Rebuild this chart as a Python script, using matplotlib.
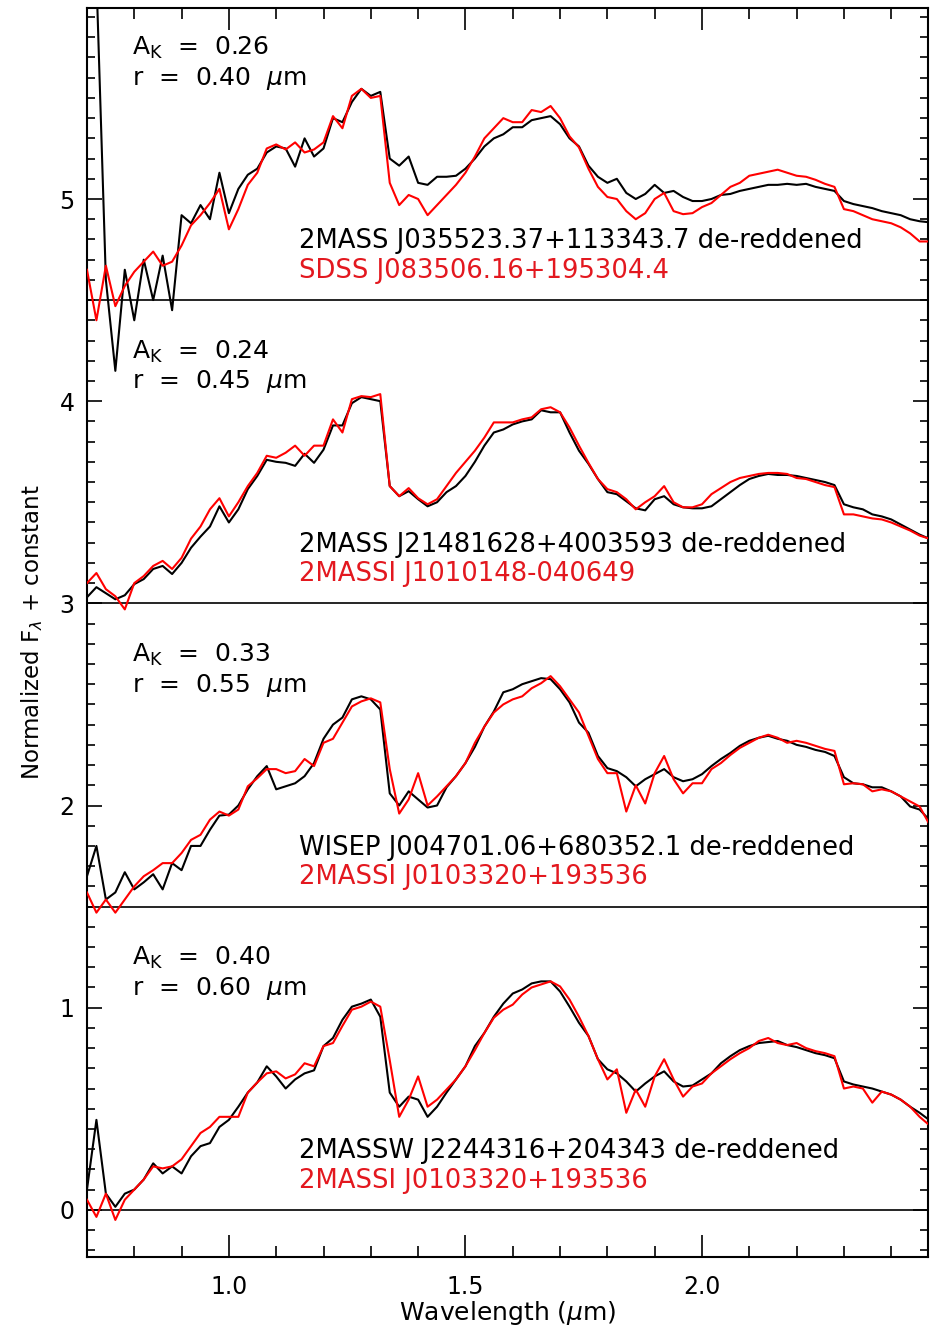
import numpy as np
import matplotlib.pyplot as plt
from matplotlib.ticker import MultipleLocator

# wavelength grid (micron)
wave = [0.70, 0.72, 0.74, 0.76, 0.78, 0.80, 0.82, 0.84, 0.86, 0.88,
        0.90, 0.92, 0.94, 0.96, 0.98, 1.00, 1.02, 1.04, 1.06, 1.08,
        1.10, 1.12, 1.14, 1.16, 1.18, 1.20, 1.22, 1.24, 1.26, 1.28,
        1.30, 1.32, 1.34, 1.36, 1.38, 1.40, 1.42, 1.44, 1.46, 1.48,
        1.50, 1.52, 1.54, 1.56, 1.58, 1.60, 1.62, 1.64, 1.66, 1.68,
        1.70, 1.72, 1.74, 1.76, 1.78, 1.80, 1.82, 1.84, 1.86, 1.88,
        1.90, 1.92, 1.94, 1.96, 1.98, 2.00, 2.02, 2.04, 2.06, 2.08,
        2.10, 2.12, 2.14, 2.16, 2.18, 2.20, 2.22, 2.24, 2.26, 2.28,
        2.30, 2.32, 2.34, 2.36, 2.38, 2.40, 2.42, 2.44, 2.46, 2.48]

offsets = [4.5, 3.0, 1.5, 0.0]
ak_vals = ['0.26', '0.24', '0.33', '0.40']
r_vals = ['0.40', '0.45', '0.55', '0.60']
obj_names = ['2MASS J035523.37+113343.7 de-reddened',
             '2MASS J21481628+4003593 de-reddened',
             'WISEP J004701.06+680352.1 de-reddened',
             '2MASSW J2244316+204343 de-reddened']
std_names = ['SDSS J083506.16+195304.4',
             '2MASSI J1010148-040649',
             '2MASSI J0103320+193536',
             '2MASSI J0103320+193536']

# de-reddened targets (black)
obj1 = [5.0, 1.6, 0.10, -0.35, 0.15, -0.10, 0.20, 0.00, 0.22, -0.05,
        0.42, 0.38, 0.47, 0.40, 0.63, 0.43, 0.55, 0.62, 0.65, 0.73,
        0.76, 0.75, 0.66, 0.80, 0.71, 0.75, 0.90, 0.88, 0.98, 1.045,
        1.01, 1.03, 0.70, 0.665, 0.71, 0.58, 0.57, 0.61, 0.61, 0.615,
        0.65, 0.70, 0.76, 0.80, 0.82, 0.855, 0.855, 0.89, 0.90, 0.91,
        0.87, 0.80, 0.76, 0.665, 0.61, 0.58, 0.60, 0.53, 0.50, 0.525,
        0.57, 0.53, 0.54, 0.51, 0.49, 0.49, 0.50, 0.52, 0.525, 0.54,
        0.55, 0.56, 0.57, 0.57, 0.575, 0.57, 0.575, 0.56, 0.55, 0.54,
        0.49, 0.475, 0.465, 0.455, 0.44, 0.43, 0.42, 0.40, 0.39, 0.385]
obj2 = [0.03, 0.08, 0.05, 0.02, 0.04, 0.095, 0.12, 0.17, 0.185, 0.145,
        0.20, 0.275, 0.33, 0.38, 0.48, 0.40, 0.465, 0.565, 0.63, 0.71,
        0.70, 0.695, 0.68, 0.74, 0.695, 0.76, 0.88, 0.88, 0.99, 1.02,
        1.01, 1.00, 0.58, 0.53, 0.555, 0.515, 0.48, 0.50, 0.55, 0.58,
        0.63, 0.70, 0.78, 0.845, 0.86, 0.885, 0.90, 0.91, 0.955, 0.945,
        0.945, 0.845, 0.755, 0.69, 0.615, 0.55, 0.54, 0.505, 0.47, 0.46,
        0.515, 0.53, 0.49, 0.475, 0.47, 0.47, 0.48, 0.515, 0.55, 0.585,
        0.615, 0.63, 0.64, 0.635, 0.635, 0.63, 0.62, 0.61, 0.60, 0.585,
        0.49, 0.475, 0.465, 0.44, 0.43, 0.415, 0.39, 0.365, 0.34, 0.32]
obj3 = [0.15, 0.30, 0.035, 0.07, 0.17, 0.085, 0.12, 0.16, 0.085, 0.215,
        0.18, 0.30, 0.30, 0.38, 0.45, 0.455, 0.50, 0.58, 0.645, 0.695,
        0.58, 0.595, 0.61, 0.645, 0.71, 0.83, 0.90, 0.935, 1.025, 1.04,
        1.025, 0.975, 0.56, 0.50, 0.57, 0.53, 0.49, 0.50, 0.59, 0.645,
        0.71, 0.79, 0.89, 0.965, 1.06, 1.075, 1.10, 1.115, 1.13, 1.125,
        1.075, 1.01, 0.91, 0.86, 0.745, 0.685, 0.67, 0.64, 0.595, 0.63,
        0.655, 0.68, 0.64, 0.62, 0.63, 0.655, 0.695, 0.73, 0.76, 0.795,
        0.82, 0.835, 0.845, 0.83, 0.82, 0.80, 0.79, 0.775, 0.765, 0.745,
        0.64, 0.61, 0.605, 0.59, 0.59, 0.57, 0.545, 0.495, 0.48, 0.43]
obj4 = [0.10, 0.445, 0.08, 0.015, 0.08, 0.10, 0.15, 0.23, 0.18, 0.215,
        0.18, 0.265, 0.315, 0.33, 0.41, 0.445, 0.51, 0.58, 0.63, 0.71,
        0.66, 0.60, 0.645, 0.675, 0.69, 0.81, 0.85, 0.94, 1.005, 1.02,
        1.04, 0.955, 0.58, 0.51, 0.56, 0.545, 0.46, 0.51, 0.58, 0.645,
        0.71, 0.81, 0.875, 0.955, 1.02, 1.07, 1.09, 1.12, 1.13, 1.13,
        1.08, 1.005, 0.925, 0.86, 0.745, 0.695, 0.675, 0.635, 0.585, 0.625,
        0.66, 0.685, 0.635, 0.61, 0.615, 0.645, 0.675, 0.725, 0.76, 0.79,
        0.81, 0.825, 0.83, 0.835, 0.815, 0.805, 0.79, 0.775, 0.765, 0.75,
        0.635, 0.62, 0.61, 0.60, 0.585, 0.57, 0.545, 0.51, 0.48, 0.445]

# spectral standards (red)
std1 = [0.15, -0.10, 0.17, -0.03, 0.07, 0.14, 0.19, 0.24, 0.17, 0.19,
        0.27, 0.37, 0.42, 0.48, 0.55, 0.35, 0.45, 0.57, 0.63, 0.75,
        0.77, 0.745, 0.78, 0.73, 0.745, 0.78, 0.91, 0.85, 1.01, 1.045,
        1.00, 1.01, 0.58, 0.47, 0.52, 0.50, 0.42, 0.47, 0.52, 0.57,
        0.63, 0.71, 0.80, 0.85, 0.90, 0.88, 0.88, 0.94, 0.93, 0.96,
        0.90, 0.81, 0.755, 0.65, 0.56, 0.51, 0.50, 0.44, 0.40, 0.43,
        0.50, 0.53, 0.44, 0.425, 0.43, 0.46, 0.48, 0.52, 0.56, 0.58,
        0.615, 0.625, 0.635, 0.645, 0.63, 0.615, 0.61, 0.595, 0.575, 0.56,
        0.45, 0.44, 0.42, 0.40, 0.39, 0.38, 0.36, 0.33, 0.29, 0.29]
std2 = [0.10, 0.15, 0.07, 0.035, -0.03, 0.10, 0.135, 0.185, 0.21, 0.17,
        0.225, 0.32, 0.38, 0.465, 0.52, 0.43, 0.50, 0.58, 0.645, 0.73,
        0.72, 0.745, 0.78, 0.73, 0.78, 0.78, 0.91, 0.845, 1.01, 1.025,
        1.02, 1.035, 0.58, 0.53, 0.57, 0.52, 0.49, 0.515, 0.58, 0.645,
        0.70, 0.755, 0.82, 0.895, 0.895, 0.895, 0.91, 0.92, 0.96, 0.97,
        0.945, 0.87, 0.78, 0.695, 0.615, 0.565, 0.55, 0.515, 0.465, 0.50,
        0.53, 0.58, 0.50, 0.475, 0.475, 0.49, 0.54, 0.57, 0.60, 0.62,
        0.63, 0.64, 0.645, 0.645, 0.64, 0.62, 0.615, 0.60, 0.585, 0.575,
        0.44, 0.44, 0.43, 0.42, 0.415, 0.40, 0.38, 0.36, 0.335, 0.32]
std3 = [0.07, -0.03, 0.035, -0.03, 0.035, 0.10, 0.15, 0.18, 0.215, 0.215,
        0.265, 0.33, 0.355, 0.43, 0.47, 0.45, 0.48, 0.595, 0.635, 0.68,
        0.68, 0.66, 0.67, 0.73, 0.695, 0.81, 0.83, 0.91, 0.99, 1.015,
        1.03, 1.01, 0.68, 0.46, 0.53, 0.66, 0.50, 0.545, 0.595, 0.645,
        0.71, 0.81, 0.89, 0.96, 1.00, 1.025, 1.04, 1.08, 1.105, 1.14,
        1.09, 1.025, 0.96, 0.845, 0.73, 0.66, 0.66, 0.47, 0.60, 0.51,
        0.66, 0.745, 0.63, 0.56, 0.61, 0.61, 0.68, 0.71, 0.75, 0.785,
        0.81, 0.835, 0.85, 0.835, 0.81, 0.82, 0.81, 0.795, 0.78, 0.77,
        0.605, 0.61, 0.605, 0.57, 0.58, 0.57, 0.545, 0.52, 0.495, 0.41]
std4 = [0.05, -0.035, 0.08, -0.05, 0.05, 0.10, 0.15, 0.215, 0.205, 0.215,
        0.25, 0.315, 0.38, 0.41, 0.46, 0.46, 0.46, 0.58, 0.63, 0.675,
        0.685, 0.65, 0.67, 0.725, 0.71, 0.81, 0.825, 0.91, 0.99, 1.005,
        1.03, 1.005, 0.74, 0.46, 0.545, 0.66, 0.51, 0.545, 0.595, 0.645,
        0.71, 0.79, 0.875, 0.95, 0.99, 1.015, 1.065, 1.10, 1.115, 1.13,
        1.105, 1.04, 0.955, 0.86, 0.745, 0.645, 0.695, 0.48, 0.595, 0.51,
        0.66, 0.745, 0.645, 0.56, 0.61, 0.625, 0.675, 0.71, 0.745, 0.775,
        0.80, 0.835, 0.85, 0.825, 0.815, 0.825, 0.80, 0.785, 0.775, 0.76,
        0.60, 0.61, 0.60, 0.53, 0.585, 0.57, 0.545, 0.51, 0.46, 0.42]

objs = [obj1, obj2, obj3, obj4]
stds = [std1, std2, std3, std4]

plt.rcParams['font.family'] = 'DejaVu Sans'
plt.rcParams['mathtext.fontset'] = 'dejavusans'
red = '#e3181f'
fs = 18

fig = plt.figure(figsize=(9.3, 13.27), dpi=100)
ax = fig.add_axes([0.0935, 0.0528, 0.9045, 0.9412])

x = np.array(wave)
for off, ob, st, ak, r, n1, n2 in zip(offsets, objs, stds, ak_vals, r_vals,
                                      obj_names, std_names):
    ax.axhline(off, color='k', lw=1.2, zorder=1)
    ax.plot(x, np.array(ob) + off, color='k', lw=1.5, zorder=2)
    ax.plot(x, np.array(st) + off, color='red', lw=1.5, zorder=3)
    ax.text(0.795, off + 1.245, r'A$_{\rm K}$  =  ' + ak, fontsize=fs,
            va='center', ha='left')
    ax.text(0.795, off + 1.095, r'r  =  ' + r + r'  $\mu$m', fontsize=fs,
            va='center', ha='left')
    ax.text(1.148, off + 0.29, n1, fontsize=18.6, va='center', ha='left')
    ax.text(1.148, off + 0.145, n2, fontsize=18.6, va='center', ha='left',
            color=red)

ax.set_xlim(0.7, 2.478)
ax.set_ylim(-0.233, 5.945)
ax.xaxis.set_major_locator(MultipleLocator(0.5))
ax.xaxis.set_minor_locator(MultipleLocator(0.1))
ax.yaxis.set_major_locator(MultipleLocator(1))
ax.yaxis.set_minor_locator(MultipleLocator(0.1))
ax.xaxis.set_major_formatter(plt.FormatStrFormatter('%.1f'))
ax.tick_params(axis='x', which='major', direction='in', length=16, width=1.2,
               top=True, labelsize=17, pad=13)
ax.tick_params(axis='x', which='minor', direction='in', length=8, width=1.2,
               top=True)
ax.tick_params(axis='y', which='major', direction='in', length=11, width=1.2,
               right=True, labelsize=17, pad=9)
ax.tick_params(axis='y', which='minor', direction='in', length=5.5, width=1.2,
               right=True)
for sp in ax.spines.values():
    sp.set_linewidth(1.5)

ax.set_xlabel(r'Wavelength ($\mu$m)', fontsize=18, labelpad=0)
ax.set_ylabel(r'Normalized F$_{\lambda}$ + constant', fontsize=16.5,
              labelpad=10)

fig.savefig('out.png', dpi=100)
